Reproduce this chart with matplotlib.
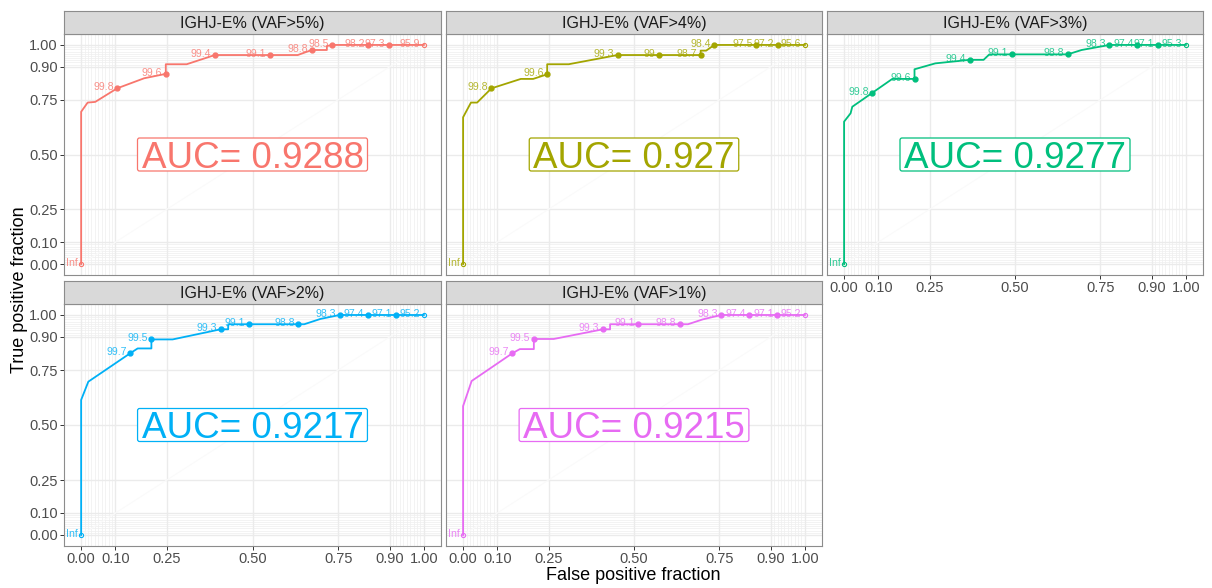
"""ROC curves of IGHJ-E% at several VAF thresholds, plotROC style."""

import matplotlib.pyplot as plt
import matplotlib.transforms as mtransforms
from matplotlib.patches import FancyBboxPatch
import numpy as np

plt.rcParams["font.family"] = ["Liberation Sans", "DejaVu Sans"]

titles = ["IGHJ-E% (VAF>5%)", "IGHJ-E% (VAF>4%)", "IGHJ-E% (VAF>3%)",
          "IGHJ-E% (VAF>2%)", "IGHJ-E% (VAF>1%)"]
colors = ["#F8766D", "#A3A500", "#00BF7D", "#00B0F6", "#E76BF3"]
auc = ["0.9288", "0.927", "0.9277", "0.9217", "0.9215"]

# curve vertices (false positive fraction, true positive fraction)
fpr_5 = [0, 0, 0.019, 0.041, 0.105, 0.184, 0.247, 0.247, 0.308, 0.39, 0.55,
         0.632, 0.673, 0.717, 0.717, 0.733, 0.838, 0.897, 1.0]
tpr_5 = [0, 0.695, 0.737, 0.74, 0.802, 0.848, 0.868, 0.912, 0.912, 0.954, 0.954,
         0.954, 0.977, 0.977, 0.995, 1.0, 1.0, 1.0, 1.0]
fpr_4 = [0, 0, 0.023, 0.041, 0.083, 0.169, 0.205, 0.246, 0.246, 0.309, 0.452,
         0.572, 0.695, 0.695, 0.711, 0.735, 0.857, 0.92, 1.0]
tpr_4 = [0, 0.67, 0.737, 0.737, 0.802, 0.845, 0.845, 0.866, 0.912, 0.912, 0.954,
         0.954, 0.954, 0.974, 0.974, 1.0, 1.0, 1.0, 1.0]
fpr_3 = [0, 0, 0.019, 0.024, 0.083, 0.141, 0.206, 0.206, 0.267, 0.367, 0.408,
         0.425, 0.491, 0.654, 0.695, 0.776, 0.858, 0.918, 1.0]
tpr_3 = [0, 0.65, 0.688, 0.718, 0.782, 0.845, 0.845, 0.889, 0.916, 0.932, 0.932,
         0.957, 0.957, 0.957, 0.977, 1.0, 1.0, 1.0, 1.0]
fpr_2 = [0, 0, 0.021, 0.143, 0.165, 0.205, 0.205, 0.267, 0.407, 0.429, 0.429,
         0.489, 0.633, 0.651, 0.698, 0.754, 0.836, 0.918, 1.0]
tpr_2 = [0, 0.614, 0.697, 0.826, 0.848, 0.848, 0.889, 0.889, 0.935, 0.935, 0.958,
         0.958, 0.958, 0.958, 0.982, 1.0, 1.0, 1.0, 1.0]
fpr_1 = [0, 0, 0.025, 0.144, 0.166, 0.207, 0.207, 0.265, 0.409, 0.43, 0.43,
         0.513, 0.634, 0.658, 0.701, 0.755, 0.837, 0.919, 1.0]
tpr_1 = [0, 0.586, 0.7, 0.826, 0.845, 0.845, 0.891, 0.891, 0.935, 0.935, 0.958,
         0.958, 0.958, 0.958, 0.98, 1.0, 1.0, 1.0, 1.0]

# labelled cutoffs (first and last are the curve ends)
cut_x_5 = [0, 0.105, 0.247, 0.39, 0.55, 0.673, 0.733, 0.838, 0.897, 1.0]
cut_y_5 = [0, 0.802, 0.868, 0.954, 0.954, 0.977, 1.0, 1.0, 1.0, 1.0]
cut_lab_5 = ["Inf", "99.8", "99.6", "99.4", "99.1", "98.8", "98.5", "98.2", "97.3", "95.9"]
cut_x_4 = [0, 0.083, 0.246, 0.452, 0.572, 0.695, 0.735, 0.857, 0.92, 1.0]
cut_y_4 = [0, 0.802, 0.866, 0.954, 0.954, 0.954, 1.0, 1.0, 1.0, 1.0]
cut_lab_4 = ["Inf", "99.8", "99.6", "99.3", "99", "98.7", "98.4", "97.5", "97.2", "95.6"]
cut_x_3 = [0, 0.083, 0.206, 0.367, 0.491, 0.654, 0.776, 0.858, 0.918, 1.0]
cut_y_3 = [0, 0.782, 0.845, 0.932, 0.957, 0.957, 1.0, 1.0, 1.0, 1.0]
cut_lab_3 = ["Inf", "99.8", "99.6", "99.4", "99.1", "98.8", "98.3", "97.4", "97.1", "95.3"]
cut_x_2 = [0, 0.143, 0.205, 0.407, 0.489, 0.633, 0.754, 0.836, 0.918, 1.0]
cut_y_2 = [0, 0.826, 0.889, 0.935, 0.958, 0.958, 1.0, 1.0, 1.0, 1.0]
cut_lab_2 = ["Inf", "99.7", "99.5", "99.3", "99.1", "98.8", "98.3", "97.4", "97.1", "95.2"]
cut_x_1 = [0, 0.144, 0.207, 0.409, 0.513, 0.634, 0.755, 0.837, 0.919, 1.0]
cut_y_1 = [0, 0.826, 0.891, 0.935, 0.958, 0.958, 1.0, 1.0, 1.0, 1.0]
cut_lab_1 = ["Inf", "99.7", "99.5", "99.3", "99.1", "98.8", "98.3", "97.4", "97.1", "95.2"]

curves = [(fpr_5, tpr_5), (fpr_4, tpr_4), (fpr_3, tpr_3), (fpr_2, tpr_2), (fpr_1, tpr_1)]
cuts = [(cut_x_5, cut_y_5, cut_lab_5), (cut_x_4, cut_y_4, cut_lab_4),
        (cut_x_3, cut_y_3, cut_lab_3), (cut_x_2, cut_y_2, cut_lab_2),
        (cut_x_1, cut_y_1, cut_lab_1)]

major = [0, 0.1, 0.25, 0.5, 0.75, 0.9, 1]
major_lab = ["0.00", "0.10", "0.25", "0.50", "0.75", "0.90", "1.00"]
minor = list(np.arange(0.01, 0.1, 0.01)) + list(np.arange(0.91, 1.0, 0.01))

W, H = 1212, 588
# panel boxes in pixels: left, top, right, bottom
boxes = [(64, 34, 441, 275), (446, 34, 822, 275), (827, 34, 1203, 275),
         (64, 304, 441, 546), (446, 304, 822, 546)]
strip_h = 23
auc_size = 26.5

fig = plt.figure(figsize=(W / 100, H / 100), dpi=100)
renderer = fig.canvas.get_renderer()

for i, (l, t, r, b) in enumerate(boxes):
    ax = fig.add_axes([l / W, 1 - b / H, (r - l) / W, (b - t) / H])
    ax.set_xlim(-0.05, 1.05)
    ax.set_ylim(-0.05, 1.05)
    ax.set_facecolor("white")
    for v in minor:
        ax.axvline(v, color="#EFEFEF", lw=0.5, zorder=0)
        ax.axhline(v, color="#EFEFEF", lw=0.5, zorder=0)
    for v in major:
        ax.axvline(v, color="#EBEBEB", lw=1.0, zorder=0)
        ax.axhline(v, color="#EBEBEB", lw=1.0, zorder=0)
    ax.plot([0, 1], [0, 1], color="#FAFAFA", lw=0.8, zorder=1)

    c = colors[i]
    fx, fy = curves[i]
    ax.plot(fx, fy, color=c, lw=1.3, zorder=2)
    cx, cy, lab = cuts[i]
    ax.plot(cx[1:-1], cy[1:-1], "o", color=c, ms=3.5, zorder=3)
    ax.plot([cx[0], cx[-1]], [cy[0], cy[-1]], "o", mfc="none", mec=c,
            ms=3, mew=0.8, zorder=3)
    for x, y, s in zip(cx, cy, lab):
        ax.annotate(s, (x, y), xytext=(-2.5, 0.8), textcoords="offset points",
                    ha="right", va="center", fontsize=7.6, color=c, alpha=0.8,
                    zorder=4)

    # AUC label: caps centred on (0.5, 0.5) with a tight rounded box
    cap_px = 0.729 * auc_size * 100 / 72
    shift = mtransforms.offset_copy(ax.transData, fig=fig, x=0,
                                    y=-cap_px / 2, units="dots")
    txt = ax.text(0.5, 0.5, "AUC= " + auc[i], color=c, fontsize=auc_size,
                  ha="center", va="baseline", transform=shift, zorder=6)
    tw = txt.get_window_extent(renderer).width
    inv = ax.transData.inverted()
    x0, y0 = inv.transform(ax.transData.transform((0.5, 0.5)) - [tw / 2 + 4, 16.5])
    x1, y1 = inv.transform(ax.transData.transform((0.5, 0.5)) + [tw / 2 + 4, 16.5])
    ax.add_patch(FancyBboxPatch((x0, y0), x1 - x0, y1 - y0,
                                boxstyle="round,pad=0,rounding_size=0.006",
                                fc="white", ec=c, lw=0.9, zorder=5,
                                mutation_aspect=1.6))

    ax.set_xticks(major)
    ax.set_yticks(major)
    ax.set_xticks([], minor=True)
    ax.set_yticks([], minor=True)
    ax.tick_params(length=3, width=0.7, color="#333333", labelsize=10.5,
                   labelcolor="#4D4D4D", pad=1.5)
    if i in (2, 3, 4):
        ax.set_xticklabels(major_lab)
    else:
        ax.tick_params(axis="x", length=0, labelbottom=False)
    if i in (0, 3):
        ax.set_yticklabels(major_lab)
    else:
        ax.tick_params(axis="y", length=0, labelleft=False)
    for sp in ax.spines.values():
        sp.set_color("#8C8C8C")
        sp.set_linewidth(0.8)

    sax = fig.add_axes([l / W, 1 - t / H, (r - l) / W, strip_h / H])
    sax.set_facecolor("#D9D9D9")
    sax.set_xticks([])
    sax.set_yticks([])
    for sp in sax.spines.values():
        sp.set_color("#8C8C8C")
        sp.set_linewidth(0.8)
    sax.text(0.5, 0.45, titles[i], transform=sax.transAxes, ha="center",
             va="center", fontsize=11.5, color="#1A1A1A")

fig.text(633 / W, 1 - 575 / H, "False positive fraction", ha="center",
         va="center", fontsize=13, color="black")
fig.text(20 / W, 1 - 290 / H, "True positive fraction", ha="center",
         va="center", rotation=90, fontsize=13, color="black")

plt.savefig("out.png", dpi=100)
plt.close()
